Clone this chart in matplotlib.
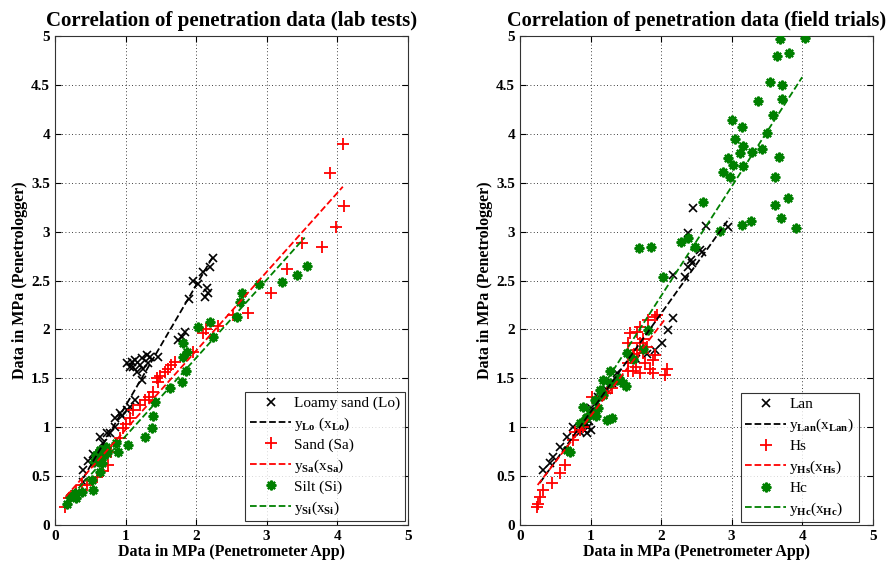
import numpy as np
import matplotlib
matplotlib.use("Agg")
import matplotlib.pyplot as plt

plt.rcParams['font.family'] = ['Liberation Serif', 'DejaVu Serif']
plt.rcParams['mathtext.fontset'] = 'custom'
plt.rcParams['mathtext.rm'] = 'Liberation Serif'
plt.rcParams['mathtext.bf'] = 'Liberation Serif:bold'
plt.rcParams['mathtext.it'] = 'Liberation Serif:italic'

# ---------------- Lab tests ----------------
lo_x = [0.40, 0.40, 0.47, 0.54, 0.64, 0.68, 0.74, 0.78, 0.85, 0.85, 0.92, 0.95, 1.02, 1.06, 1.13, 1.23,
        1.02, 1.09, 1.13, 1.23, 1.30, 1.35, 1.20, 1.25, 1.10, 1.16, 1.32, 1.46, 1.06,
        1.74, 1.80, 1.84, 1.90, 1.96, 2.03, 2.10, 2.15, 2.17, 2.12, 2.20, 2.24]
lo_y = [0.44, 0.56, 0.66, 0.73, 0.90, 0.84, 0.94, 0.94, 1.00, 1.09, 1.15, 1.12, 1.18, 1.21, 1.28, 1.48,
        1.66, 1.67, 1.69, 1.71, 1.74, 1.72, 1.64, 1.60, 1.62, 1.57, 1.66, 1.72, 1.62,
        1.89, 1.92, 1.97, 2.31, 2.50, 2.47, 2.59, 2.42, 2.37, 2.33, 2.64, 2.73]

sa_x = [0.14, 0.20, 0.30, 0.38, 0.45, 0.59, 0.68, 0.75, 0.80, 0.92, 0.97, 1.01, 1.06, 1.10, 1.20, 1.27,
        1.33, 1.39, 1.46, 1.44, 1.49, 1.56, 1.60, 1.65, 1.70, 1.96, 2.10, 2.14, 2.31, 2.52, 2.74,
        3.06, 3.29, 3.50, 3.78, 3.99, 4.09, 3.90, 4.08]
sa_y = [0.18, 0.28, 0.35, 0.41, 0.41, 0.49, 0.55, 0.61, 0.75, 0.89, 0.99, 1.03, 1.10, 1.18, 1.23, 1.28,
        1.31, 1.36, 1.46, 1.50, 1.52, 1.57, 1.60, 1.64, 1.67, 1.77, 1.96, 2.00, 2.04, 2.15, 2.17,
        2.37, 2.62, 2.88, 2.84, 3.05, 3.26, 3.60, 3.90]

si_x = [0.17, 0.21, 0.25, 0.28, 0.30, 0.38, 0.54, 0.52, 0.64, 0.55, 0.60, 0.62, 0.65, 0.68, 0.70, 0.72,
        0.64, 0.58, 0.66, 0.74, 0.87, 0.89, 1.03, 1.27, 1.37, 1.39, 1.42, 1.63, 1.80, 1.86, 1.82,
        1.87, 1.82, 2.03, 2.24, 2.20, 2.62, 2.58, 2.65, 2.89, 3.22, 3.43, 3.57]
si_y = [0.22, 0.29, 0.30, 0.33, 0.28, 0.34, 0.36, 0.46, 0.54, 0.65, 0.70, 0.75, 0.68, 0.78, 0.72, 0.80,
        0.77, 0.72, 0.63, 0.74, 0.84, 0.75, 0.82, 0.90, 0.99, 1.12, 1.26, 1.40, 1.46, 1.58, 1.72,
        1.77, 1.86, 2.03, 1.92, 2.08, 2.28, 2.13, 2.37, 2.47, 2.49, 2.56, 2.65]

fit_lo_x = [0.40, 2.25]
fit_lo_y = [0.48, 2.76]
fit_sa_x = [0.15, 4.08]
fit_sa_y = [0.29, 3.46]
fit_si_x = [0.15, 3.54]
fit_si_y = [0.23, 2.94]

# ---------------- Field trials ----------------
lan_x = [0.33, 0.43, 0.47, 0.57, 0.66, 0.75, 0.85, 0.90, 0.92, 0.95, 0.97, 1.00, 0.93, 0.98, 1.00,
         1.11, 1.23, 1.30, 1.37, 1.65, 1.80, 1.91, 2.01, 2.10, 2.17, 2.17, 2.34, 2.44, 2.58, 2.38,
         2.43, 2.55, 2.38, 2.63, 2.95, 2.45]
lan_y = [0.56, 0.63, 0.70, 0.80, 0.90, 1.00, 0.95, 0.98, 1.02, 0.94, 1.00, 0.97, 1.04, 1.06, 1.20,
         1.31, 1.38, 1.45, 1.55, 1.70, 1.75, 1.79, 1.86, 1.99, 2.12, 2.56, 2.54, 2.68, 2.79, 2.64,
         2.71, 2.81, 2.99, 3.06, 3.05, 3.24]

hs_x = [0.24, 0.26, 0.28, 0.33, 0.45, 0.57, 0.64, 0.75, 0.78, 0.85, 0.90, 1.02, 1.23, 1.30, 1.53,
        1.60, 1.53, 1.56, 1.66, 1.70, 1.81, 1.91, 1.94, 1.60, 1.70, 1.77, 1.88, 1.91, 1.74, 1.84,
        2.08, 2.05, 1.88, 1.53, 1.66, 1.70, 1.80, 1.75, 1.62, 1.65]
hs_y = [0.18, 0.22, 0.29, 0.36, 0.43, 0.53, 0.61, 0.87, 0.95, 0.97, 1.00, 1.31, 1.35, 1.40, 1.66,
        1.72, 1.86, 1.96, 1.97, 2.03, 2.10, 2.13, 2.15, 1.58, 1.55, 1.66, 1.69, 1.74, 1.76, 1.60,
        1.60, 1.53, 1.55, 1.58, 1.79, 1.86, 1.82, 1.90, 1.75, 1.62]

hc_x = [0.66, 0.71, 0.85, 0.94, 0.99, 1.08, 1.23, 1.30, 0.89, 1.06, 1.13, 1.18, 1.27, 1.18, 1.37,
        1.46, 1.50, 1.27, 1.52, 1.81, 1.00, 1.10, 1.40, 1.60, 1.75, 2.03, 1.69, 1.86, 2.28, 2.38,
        2.48, 2.60, 2.83, 3.14, 3.27, 3.70, 3.91, 3.61, 3.80, 3.62, 3.67, 2.97, 2.88, 3.02, 3.16,
        2.95, 3.12, 3.16, 3.05, 3.14, 3.00, 3.29, 3.43, 3.50, 3.58, 3.37, 3.71, 3.54, 3.71, 3.64,
        3.81, 3.68, 4.04]
hc_y = [0.77, 0.75, 1.04, 1.09, 1.14, 1.12, 1.07, 1.09, 1.21, 1.28, 1.38, 1.33, 1.45, 1.48, 1.48,
        1.45, 1.42, 1.58, 1.76, 1.99, 1.15, 1.20, 1.50, 1.70, 1.80, 2.54, 2.83, 2.84, 2.89, 2.94,
        2.84, 3.30, 3.01, 3.07, 3.11, 3.14, 3.04, 3.27, 3.34, 3.56, 3.76, 3.56, 3.61, 3.68, 3.67,
        3.75, 3.80, 3.88, 3.95, 4.07, 4.14, 3.81, 3.85, 4.01, 4.19, 4.34, 4.36, 4.53, 4.50, 4.80,
        4.83, 4.97, 4.98]

fit_lan_x = [0.28, 2.97]
fit_lan_y = [0.43, 3.14]
fit_hs_x = [0.25, 2.05]
fit_hs_y = [0.41, 2.10]
fit_hc_x = [0.80, 4.00]
fit_hc_y = [1.00, 4.58]

ticks_x = [0, 1, 2, 3, 4, 5]
ticks_y = [0, 0.5, 1, 1.5, 2, 2.5, 3, 3.5, 4, 4.5, 5]
tick_y_labels = ['0', '0.5', '1', '1.5', '2', '2.5', '3', '3.5', '4', '4.5', '5']

GREEN = '#008000'
ast = (8, 2, 0)

fig = plt.figure(figsize=(8.93, 5.64), dpi=100)
ax1 = fig.add_axes([0.0616, 0.069, 0.395, 0.867])
ax2 = fig.add_axes([0.5823, 0.069, 0.395, 0.867])


def style(ax, title, legpos, tsize):
    ax.set_xlim(0, 5)
    ax.set_ylim(0, 5)
    ax.set_xticks(ticks_x)
    ax.set_yticks(ticks_y)
    ax.set_yticklabels(tick_y_labels)
    ax.grid(True, linestyle=(0, (1, 3)), color='black', linewidth=0.6)
    ax.tick_params(direction='in', top=True, right=True, length=4, labelsize=11, width=0.8)
    for lab in ax.get_xticklabels() + ax.get_yticklabels():
        lab.set_fontweight('bold')
    for s in ax.spines.values():
        s.set_color('#333333')
        s.set_linewidth(0.8)
    ax.set_title(title, fontsize=tsize, fontweight='bold', pad=7)
    ax.set_xlabel('Data in MPa (Penetrometer App)', fontsize=11.5, fontweight='bold', labelpad=1)
    ax.set_ylabel('Data in MPa (Penetrologger)', fontsize=11.5, fontweight='bold', labelpad=2)
    leg = ax.legend(loc='lower right', bbox_to_anchor=legpos, fontsize=11, frameon=True,
                    fancybox=False, edgecolor='black', handlelength=2.7, handletextpad=0.2,
                    labelspacing=0.35, borderpad=0.3, borderaxespad=0)
    leg.get_frame().set_linewidth(0.8)


ax1.plot(lo_x, lo_y, 'x', color='black', ms=6, mew=1.2, label='Loamy sand (Lo)', zorder=3)
ax1.plot(fit_lo_x, fit_lo_y, '--', color='black', lw=1.3, label=r'$\mathrm{y}_{\mathbf{Lo}}\ (\mathrm{x}_{\mathbf{Lo}})$', zorder=4)
ax1.plot(sa_x, sa_y, '+', color='red', ms=8, mew=1.3, label='Sand (Sa)', zorder=3)
ax1.plot(fit_sa_x, fit_sa_y, '--', color='red', lw=1.3, label=r'$\mathrm{y}_{\mathbf{Sa}}(\mathrm{x}_{\mathbf{Sa}})$', zorder=4)
ax1.plot(si_x, si_y, marker=ast, ls='none', color=GREEN, ms=7, mew=1.6, label='Silt (Si)', zorder=3)
ax1.plot(fit_si_x, fit_si_y, '--', color=GREEN, lw=1.3, label=r'$\mathrm{y}_{\mathbf{Si}}(\mathrm{x}_{\mathbf{Si}})$', zorder=4)
style(ax1, 'Correlation of penetration data (lab tests)', (0.992, 0.008), 15)

ax2.plot(lan_x, lan_y, 'x', color='black', ms=6, mew=1.2, label='Lan', zorder=3)
ax2.plot(fit_lan_x, fit_lan_y, '--', color='black', lw=1.3, label=r'$\mathrm{y}_{\mathbf{Lan}}(\mathrm{x}_{\mathbf{Lan}})$', zorder=4)
ax2.plot(hs_x, hs_y, '+', color='red', ms=8, mew=1.3, label='Hs', zorder=3)
ax2.plot(fit_hs_x, fit_hs_y, '--', color='red', lw=1.3, label=r'$\mathrm{y}_{\mathbf{Hs}}(\mathrm{x}_{\mathbf{Hs}})$', zorder=4)
ax2.plot(hc_x, hc_y, marker=ast, ls='none', color=GREEN, ms=7, mew=1.6, label='Hc', zorder=3)
ax2.plot(fit_hc_x, fit_hc_y, '--', color=GREEN, lw=1.3, label=r'$\mathrm{y}_{\mathbf{Hc}}(\mathrm{x}_{\mathbf{Hc}})$', zorder=4)
style(ax2, 'Correlation of penetration data (field trials)', (0.96, 0.006), 14.6)

fig.savefig('out.png', dpi=100)
